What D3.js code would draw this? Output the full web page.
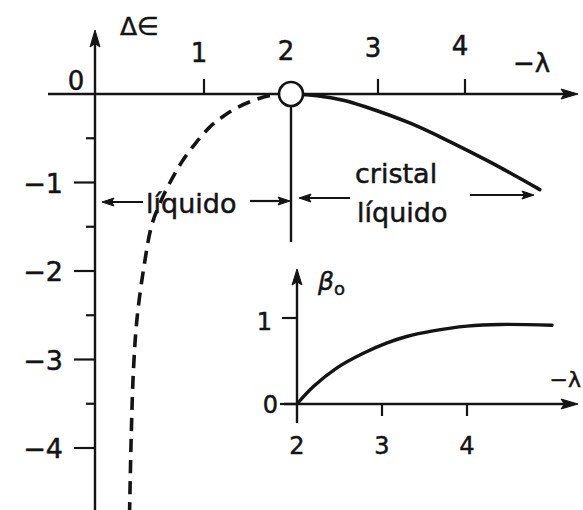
<!DOCTYPE html>
<html>
<head>
<meta charset="utf-8">
<script src="https://cdn.jsdelivr.net/npm/d3@7"></script>
<style>
  html, body { margin: 0; padding: 0; background: #ffffff; }
  svg { display: block; }
  text { font-family: "DejaVu Sans", sans-serif; fill: #141414; stroke: #141414; stroke-width: 0.5px; }
</style>
</head>
<body>
<div id="chart"></div>
<script>
// Energy difference Δε versus −λ: liquid branch (dashed), liquid-crystal branch (solid)
const liquidLambda = [2.0, 1.75, 1.55, 1.37, 1.21, 1.06, 0.90, 0.75, 0.62, 0.50, 0.40, 0.31, 0.23, 0.19, 0.165, 0.145];
const liquidEnergy = [0, -0.02, -0.08, -0.16, -0.26, -0.38, -0.56, -0.76, -0.98, -1.22, -1.48, -1.95, -2.54, -3.10, -3.81, -4.70];

const crystalLambda = [2.0, 2.3, 2.6, 2.87, 3.37, 3.83, 4.29, 4.86];
const crystalEnergy = [0, -0.02, -0.07, -0.15, -0.33, -0.54, -0.77, -1.08];

// Order parameter β0 versus −λ (inset)
const betaLambda = [2.0, 2.19, 2.47, 2.78, 3.06, 3.29, 3.6, 4.0, 4.39, 5.0];
const betaValue  = [0, 0.2, 0.42, 0.59, 0.71, 0.785, 0.85, 0.905, 0.925, 0.915];

// Tick labels
const mainXTicks = [1, 2, 3, 4];
const mainXTickMarks = [1, 3, 4];
const mainYTicks = [-1, -2, -3, -4];
const mainYMinor = [-0.5, -1.5, -2.5, -3.5];
const insetXTicks = [2, 3, 4];
const insetYTicks = [1];
const criticalLambda = 2;

const W = 583, H = 510;
const ink = "#141414";

const svg = d3.select("#chart").append("svg")
  .attr("width", W).attr("height", H)
  .attr("viewBox", `0 0 ${W} ${H}`);

svg.append("rect").attr("width", W).attr("height", H).attr("fill", "#ffffff");

// Main scales
const x = d3.scaleLinear().domain([0, 5]).range([117, 552]);
const y = d3.scaleLinear().domain([0, -4]).range([94, 448]);
const axisX = 95; // pixel column of the Δε axis

function arrowHead(g, tipX, tipY, dir, len, half) {
  let pts;
  if (dir === "right") pts = [[tipX, tipY], [tipX - len, tipY - half], [tipX - len * 0.8, tipY], [tipX - len, tipY + half]];
  else if (dir === "left") pts = [[tipX, tipY], [tipX + len, tipY - half], [tipX + len * 0.8, tipY], [tipX + len, tipY + half]];
  else pts = [[tipX, tipY], [tipX - half, tipY + len], [tipX, tipY + len * 0.8], [tipX + half, tipY + len]];
  g.append("path").attr("d", "M" + pts.map(p => p.join(",")).join("L") + "Z")
    .attr("fill", ink).attr("stroke", ink).attr("stroke-width", 1).attr("stroke-linejoin", "round");
}

const main = svg.append("g");

// x axis line
main.append("line").attr("x1", 48).attr("x2", 570).attr("y1", y(0)).attr("y2", y(0))
  .attr("stroke", ink).attr("stroke-width", 2.4);
arrowHead(main, 578, y(0), "right", 17, 5);

// y axis line
main.append("line").attr("x1", axisX).attr("x2", axisX).attr("y1", 40).attr("y2", H)
  .attr("stroke", ink).attr("stroke-width", 2.4);
arrowHead(main, axisX, 30, "up", 17, 5);

// x tick marks (upward) and labels
main.selectAll(".xt").data(mainXTickMarks).enter().append("line")
  .attr("x1", d => x(d)).attr("x2", d => x(d))
  .attr("y1", y(0)).attr("y2", y(0) - 15)
  .attr("stroke", ink).attr("stroke-width", 2.2);
main.selectAll(".xl").data(mainXTicks).enter().append("text")
  .attr("x", d => x(d) - 5).attr("y", (d, i) => 62 - i * 2.3)
  .attr("text-anchor", "middle").attr("font-size", 26)
  .text(d => d);

main.append("text").attr("x", 76).attr("y", 90).attr("text-anchor", "middle")
  .attr("font-size", 26).text("0");

// y ticks
main.selectAll(".yt").data(mainYTicks).enter().append("line")
  .attr("x1", axisX - 21).attr("x2", axisX)
  .attr("y1", d => y(d)).attr("y2", d => y(d))
  .attr("stroke", ink).attr("stroke-width", 2.2);
main.selectAll(".ym").data(mainYMinor).enter().append("line")
  .attr("x1", axisX - 9).attr("x2", axisX)
  .attr("y1", d => y(d)).attr("y2", d => y(d))
  .attr("stroke", ink).attr("stroke-width", 2.2);
main.selectAll(".yl").data(mainYTicks).enter().append("text")
  .attr("x", 63).attr("y", d => y(d) + 10)
  .attr("text-anchor", "end").attr("font-size", 27)
  .text(d => "\u2212" + Math.abs(d));

// axis titles
main.append("text").attr("x", 120).attr("y", 35).attr("font-size", 25).text("Δ∈");
main.append("text").attr("x", 513).attr("y", 72).attr("font-size", 26).text("\u2212λ");

// curves
const line = d3.line().x(d => x(d[0])).y(d => y(d[1])).curve(d3.curveCatmullRom.alpha(0.5));

main.append("path")
  .datum(d3.zip(liquidLambda, liquidEnergy))
  .attr("d", line)
  .attr("fill", "none").attr("stroke", ink).attr("stroke-width", 3.6)
  .attr("stroke-dasharray", "13,8");

main.append("path")
  .datum(d3.zip(crystalLambda, crystalEnergy))
  .attr("d", line)
  .attr("fill", "none").attr("stroke", ink).attr("stroke-width", 3.6)
  .attr("stroke-linecap", "round");

// phase boundary
main.append("line").attr("x1", x(criticalLambda)).attr("x2", x(criticalLambda))
  .attr("y1", y(0)).attr("y2", 242)
  .attr("stroke", ink).attr("stroke-width", 2.4);
main.append("circle").attr("cx", x(criticalLambda)).attr("cy", y(0)).attr("r", 12)
  .attr("fill", "#ffffff").attr("stroke", ink).attr("stroke-width", 2.6);

// region labels with arrows
function hArrow(x1, x2, yy) {
  main.append("line").attr("x1", x1).attr("x2", x2 + (x2 > x1 ? -8 : 8)).attr("y1", yy).attr("y2", yy)
    .attr("stroke", ink).attr("stroke-width", 2.2);
  arrowHead(main, x2, yy, x2 > x1 ? "right" : "left", 12, 4);
}
main.append("text").attr("x", 146).attr("y", 213).attr("font-size", 27).text("líquido");
hArrow(143, 102, 202);
hArrow(250, 290, 201);

main.append("text").attr("x", 355).attr("y", 183).attr("font-size", 27).text("cristal");
main.append("text").attr("x", 357).attr("y", 222).attr("font-size", 27).text("líquido");
hArrow(350, 299, 198);
hArrow(470, 534, 195);

// Inset: β0 versus −λ
const ix = d3.scaleLinear().domain([2, 4]).range([297, 467]);
const iy = d3.scaleLinear().domain([0, 1]).range([404, 318]);
const inset = svg.append("g");

inset.append("line").attr("x1", 284).attr("x2", 570).attr("y1", iy(0)).attr("y2", iy(0))
  .attr("stroke", ink).attr("stroke-width", 2.4);
arrowHead(inset, 578, iy(0), "right", 17, 5);
inset.append("line").attr("x1", ix(2)).attr("x2", ix(2)).attr("y1", 423).attr("y2", 280)
  .attr("stroke", ink).attr("stroke-width", 2.4);
arrowHead(inset, ix(2), 269, "up", 16, 5);

inset.selectAll(".ixt").data(insetXTicks.slice(1)).enter().append("line")
  .attr("x1", d => ix(d)).attr("x2", d => ix(d))
  .attr("y1", iy(0)).attr("y2", iy(0) + 12)
  .attr("stroke", ink).attr("stroke-width", 2.2);
inset.selectAll(".ixl").data(insetXTicks).enter().append("text")
  .attr("x", d => ix(d)).attr("y", 454)
  .attr("text-anchor", "middle").attr("font-size", 24)
  .text(d => d);

inset.selectAll(".iyt").data(insetYTicks).enter().append("line")
  .attr("x1", ix(2) - 15).attr("x2", ix(2))
  .attr("y1", d => iy(d)).attr("y2", d => iy(d))
  .attr("stroke", ink).attr("stroke-width", 2.2);
inset.selectAll(".iyl").data(insetYTicks).enter().append("text")
  .attr("x", 272).attr("y", d => iy(d) + 12)
  .attr("text-anchor", "end").attr("font-size", 24)
  .text(d => d);
inset.append("text").attr("x", 278).attr("y", iy(0) + 9)
  .attr("text-anchor", "end").attr("font-size", 24).text("0");
// short stub joining the "0" label to the axis
inset.append("line").attr("x1", 280).attr("x2", ix(2)).attr("y1", iy(0)).attr("y2", iy(0))
  .attr("stroke", ink).attr("stroke-width", 2.2);

const beta = inset.append("text").attr("x", 318).attr("y", 290).attr("font-size", 25)
  .attr("font-style", "italic");
beta.append("tspan").text("β");
beta.append("tspan").attr("font-size", 18).attr("font-style", "normal").attr("dy", 5).text("o");

inset.append("text").attr("x", 581).attr("y", 387).attr("text-anchor", "end")
  .attr("font-size", 22).text("\u2212λ");

const iline = d3.line().x(d => ix(d[0])).y(d => iy(d[1])).curve(d3.curveCatmullRom.alpha(0.5));
inset.append("path")
  .datum(d3.zip(betaLambda, betaValue))
  .attr("d", iline)
  .attr("fill", "none").attr("stroke", ink).attr("stroke-width", 3.4)
  .attr("stroke-linecap", "round");
</script>
</body>
</html>
